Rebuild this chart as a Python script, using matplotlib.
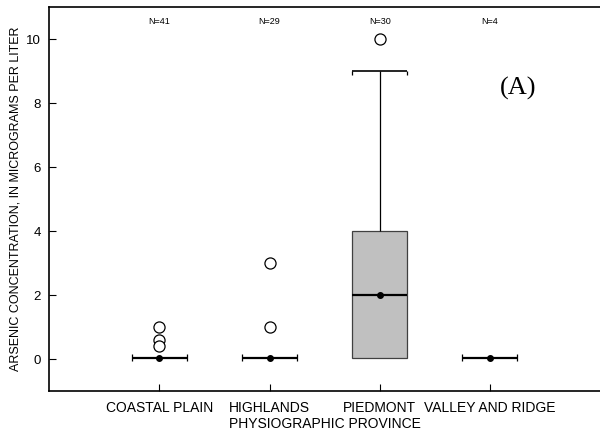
import matplotlib.pyplot as plt
import numpy as np

plt.rcParams['font.family'] = ['Liberation Sans', 'DejaVu Sans']

provinces = ['COASTAL PLAIN', 'HIGHLANDS', 'PIEDMONT', 'VALLEY AND RIDGE']
counts = [41, 29, 30, 4]
q1 = [0.05, 0.05, 0.05, 0.05]
medians = [0.05, 0.05, 2.0, 0.05]
q3 = [0.05, 0.05, 4.0, 0.05]
whisk_lo = [0.05, 0.05, 0.05, 0.05]
whisk_hi = [0.05, 0.05, 9.0, 0.05]
outliers = [[1.0, 0.6, 0.4], [3.0, 1.0], [10.0], []]

fig, ax = plt.subplots(figsize=(6, 4.4), dpi=100)
fig.subplots_adjust(left=0.082, right=1.0, top=0.984, bottom=0.111)

pos = np.arange(1, len(provinces) + 1)
w = 0.5
tk = 0.11  # little end ticks, data units

for i, x in enumerate(pos):
    if q3[i] > q1[i]:
        ax.bar(x, q3[i] - q1[i], width=w, bottom=q1[i], color='#c0c0c0',
               edgecolor='#404040', linewidth=0.9, zorder=2)
    # whiskers
    if whisk_hi[i] > q3[i]:
        ax.vlines(x, q3[i], whisk_hi[i], color='black', linewidth=0.9, zorder=2)
        ax.hlines(whisk_hi[i], x - w / 2, x + w / 2, color='black', linewidth=1.2, zorder=3)
        ax.vlines([x - w / 2, x + w / 2], whisk_hi[i] - tk, whisk_hi[i], color='black',
                  linewidth=0.9, zorder=3)
    if whisk_lo[i] < q1[i]:
        ax.vlines(x, whisk_lo[i], q1[i], color='black', linewidth=0.9, zorder=2)
        ax.hlines(whisk_lo[i], x - w / 2, x + w / 2, color='black', linewidth=1.2, zorder=3)
    if q3[i] == q1[i]:
        # collapsed box: caps both ways
        ax.vlines([x - w / 2, x + w / 2], medians[i] - tk, medians[i] + tk, color='black',
                  linewidth=0.9, zorder=3)
    # median
    ax.hlines(medians[i], x - w / 2, x + w / 2, color='black', linewidth=1.6, zorder=4)
    ax.plot(x, medians[i], 'o', color='black', markersize=4, zorder=5)
    # outliers
    if outliers[i]:
        ax.plot([x] * len(outliers[i]), outliers[i], 'o', markerfacecolor='white',
                markeredgecolor='black', markersize=8, markeredgewidth=0.9, zorder=5)
    ax.text(x, 10.55, 'N=%d' % counts[i], ha='center', va='center', fontsize=6.5)

ax.text(4.26, 8.47, '(A)', ha='center', va='center', fontsize=19,
        family=['Liberation Serif', 'DejaVu Serif'])

ax.set_xlim(0, 5)
ax.set_ylim(-1, 11)
ax.set_xticks(pos)
ax.set_xticklabels(provinces, fontsize=10)
ax.set_yticks([0, 2, 4, 6, 8, 10])
ax.tick_params(axis='y', direction='in', length=5, labelsize=9.5, pad=6)
ax.tick_params(axis='x', direction='in', length=5, labelsize=10, pad=7)
ax.set_xlabel('PHYSIOGRAPHIC PROVINCE', fontsize=10, labelpad=1.5)
ax.set_ylabel('ARSENIC CONCENTRATION, IN MICROGRAMS PER LITER', fontsize=9, labelpad=3)
for s in ['left', 'bottom', 'top']:
    ax.spines[s].set_linewidth(1.2)
ax.spines['right'].set_visible(False)

plt.savefig('out.png')
